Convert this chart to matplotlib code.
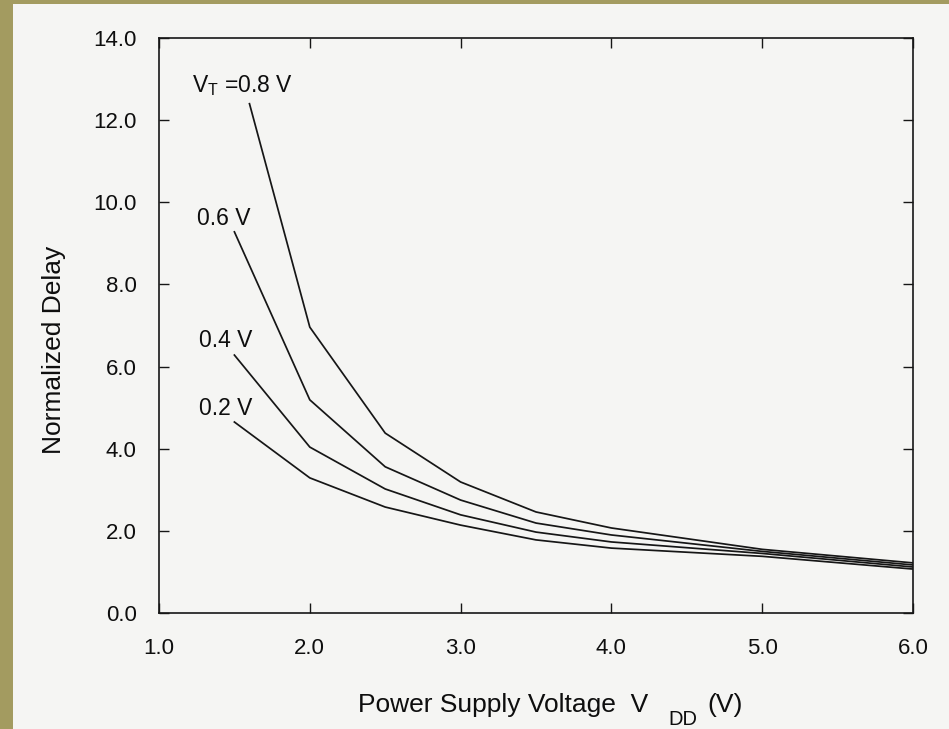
import matplotlib
matplotlib.use('Agg')
import matplotlib.pyplot as plt
from matplotlib import rcParams
from matplotlib.patches import Rectangle

rcParams['font.family'] = ['Liberation Sans', 'DejaVu Sans']
rcParams['mathtext.fontset'] = 'custom'
rcParams['mathtext.rm'] = 'Liberation Sans'

# threshold voltage curves, normalized delay vs supply voltage
vdd = [1.5, 2.0, 2.5, 3.0, 3.5, 4.0, 5.0, 6.0]
vdd_08 = [1.6, 2.0, 2.5, 3.0, 3.5, 4.0, 5.0, 6.0]
delay_08 = [12.4, 6.96, 4.38, 3.19, 2.46, 2.07, 1.55, 1.22]
delay_06 = [9.28, 5.19, 3.56, 2.75, 2.19, 1.90, 1.50, 1.17]
delay_04 = [6.28, 4.04, 3.02, 2.39, 1.97, 1.73, 1.45, 1.12]
delay_02 = [4.65, 3.29, 2.58, 2.14, 1.78, 1.58, 1.38, 1.07]

xticks = [1.0, 2.0, 3.0, 4.0, 5.0, 6.0]
yticks = [0.0, 2.0, 4.0, 6.0, 8.0, 10.0, 12.0, 14.0]

W, H = 949, 729
fig = plt.figure(figsize=(W / 100, H / 100), dpi=100, facecolor='#a39b60')
# white paper area inside the olive border
fig.patches.append(Rectangle((13 / W, 0), 1, 1 - 4 / H, transform=fig.transFigure,
                             facecolor='#f5f5f3', edgecolor='none', zorder=-10))

ax = fig.add_axes([159 / W, 116 / H, 754 / W, 575 / H])
ax.set_facecolor('#f5f5f3')

ink = '#161616'
txt = '#0e0e0e'
for xs, ys in [(vdd_08, delay_08), (vdd, delay_06), (vdd, delay_04), (vdd, delay_02)]:
    ax.plot(xs, ys, color=ink, lw=1.25)

ax.set_xlim(1.0, 6.0)
ax.set_ylim(0.0, 14.0)
ax.set_xticks(xticks)
ax.set_yticks(yticks)
ax.set_xticklabels(['%.1f' % v for v in xticks])
ax.set_yticklabels(['%.1f' % v for v in yticks])
ax.tick_params(direction='in', length=7, width=1.0, color=ink, labelsize=16,
               labelcolor=txt, top=True, right=True)
ax.tick_params(axis='y', pad=16)
ax.tick_params(axis='x', pad=18)
for sp in ax.spines.values():
    sp.set_color(ink)
    sp.set_linewidth(1.2)

ax.set_ylabel('Normalized Delay', fontsize=19, color=txt)
ax.yaxis.set_label_coords(-0.124, 0.457)

# x label in pieces: the DD subscript sits low and large in the original
fig.text(358 / W, 1 - 712 / H, 'Power Supply Voltage  V', fontsize=19, color=txt,
         ha='left', va='baseline')
fig.text(668 / W, 1 - 725 / H, 'DD', fontsize=14.5, color=txt, ha='left', va='baseline')
fig.text(707 / W, 1 - 712 / H, '(V)', fontsize=19, color=txt, ha='left', va='baseline')

ax.text(1.218, 12.69, r'V$_{\mathregular{T}}$ =0.8 V', fontsize=16.5, va='baseline', color=txt)
ax.text(1.252, 9.45, '0.6 V', fontsize=16.5, va='baseline', color=txt)
ax.text(1.265, 6.48, '0.4 V', fontsize=16.5, va='baseline', color=txt)
ax.text(1.265, 4.82, '0.2 V', fontsize=16.5, va='baseline', color=txt)

fig.savefig('out.png', dpi=100, facecolor=fig.get_facecolor())
